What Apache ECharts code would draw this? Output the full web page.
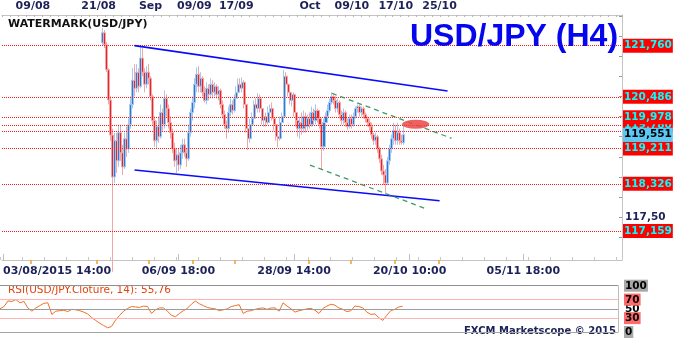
<!DOCTYPE html>
<html><head><meta charset="utf-8">
<script src="https://cdn.jsdelivr.net/npm/echarts/dist/echarts.min.js"></script>
<style>html,body{margin:0;padding:0;background:#fff}#c{width:680px;height:338px}</style>
</head><body><div id="c"></div>
<script>
// ---- data ----
const slotCount = 311;          // H4 slots on the main time axis (incl. future space)
const firstSlot = 50;           // first slot whose candle lies inside the visible price range
const opens = [
121.83,122.08,121.78,121.16,120.41,119.54,118.50,119.40,118.90,119.60,
119.10,118.75,119.45,119.20,119.80,120.30,120.90,120.70,121.10,120.75,
121.45,121.10,120.80,121.10,120.95,120.50,119.90,119.40,119.75,119.50,
120.10,119.80,120.45,120.20,119.85,119.60,119.20,118.90,119.05,118.80,
119.10,119.30,119.10,118.95,119.60,120.10,120.35,120.80,121.05,120.75,
120.95,120.60,120.40,120.70,120.55,120.80,120.60,120.75,120.55,120.65,
120.30,120.05,119.80,119.70,120.10,120.30,120.15,120.45,120.60,120.80,
120.70,120.85,120.30,119.70,119.45,119.80,119.95,120.30,120.20,120.45,
120.20,119.90,120.00,119.85,120.10,120.20,119.95,119.80,119.50,119.45,
119.85,120.00,121.00,120.80,120.60,120.40,120.55,120.10,119.90,119.70,
119.85,119.70,120.00,119.75,119.95,119.80,120.10,119.90,120.15,119.95,
119.80,119.25,119.85,120.00,120.15,120.35,120.50,120.40,120.20,120.35,
120.05,119.90,120.10,119.85,119.75,119.95,119.80,120.00,120.20,120.25,
120.10,120.20,120.05,119.95,119.85,119.75,119.55,119.40,119.50,119.20,
118.95,118.65,118.55,118.35,118.90,119.20,119.45,119.65,119.40,119.60,
119.40,119.35];
const closes = [
122.08,121.78,121.16,120.41,119.54,118.50,119.40,118.90,119.60,119.10,
118.75,119.45,119.20,119.80,120.30,120.90,120.70,121.10,120.75,121.45,
121.10,120.80,121.10,120.95,120.50,119.90,119.40,119.75,119.50,120.10,
119.80,120.45,120.20,119.85,119.60,119.20,118.90,119.05,118.80,119.10,
119.30,119.10,118.95,119.60,120.10,120.35,120.80,121.05,120.75,120.95,
120.60,120.40,120.70,120.55,120.80,120.60,120.75,120.55,120.65,120.30,
120.05,119.80,119.70,120.10,120.30,120.15,120.45,120.60,120.80,120.70,
120.85,120.30,119.70,119.45,119.80,119.95,120.30,120.20,120.45,120.20,
119.90,120.00,119.85,120.10,120.20,119.95,119.80,119.50,119.45,119.85,
120.00,121.00,120.80,120.60,120.40,120.55,120.10,119.90,119.70,119.85,
119.70,120.00,119.75,119.95,119.80,120.10,119.90,120.15,119.95,119.80,
119.25,119.85,120.00,120.15,120.35,120.50,120.40,120.20,120.35,120.05,
119.90,120.10,119.85,119.75,119.95,119.80,120.00,120.20,120.25,120.10,
120.20,120.05,119.95,119.85,119.75,119.55,119.40,119.50,119.20,118.95,
118.65,118.55,118.35,118.90,119.20,119.45,119.65,119.40,119.60,119.40,
119.35,119.551];
const lows = [
121.78,121.70,121.10,120.30,119.40,116.15,118.35,118.60,118.75,118.90,
118.55,118.70,119.00,119.10,119.70,120.20,120.50,120.60,120.60,120.70,
121.00,120.60,120.70,120.80,120.40,119.80,119.25,119.20,119.35,119.45,
119.65,119.70,120.00,119.70,119.45,119.10,118.75,118.60,118.65,118.70,
118.95,119.00,118.75,118.90,119.50,119.90,120.20,120.60,120.60,120.60,
120.50,120.35,120.30,120.40,120.45,120.45,120.50,120.45,120.40,120.20,
119.95,119.70,119.45,119.60,120.00,120.05,120.10,120.35,120.50,120.60,
120.60,120.20,119.60,119.17,119.35,119.65,119.90,120.05,120.10,120.10,
119.80,119.75,119.75,119.80,120.00,119.90,119.65,119.40,119.24,119.40,
119.70,119.95,120.65,120.50,120.30,120.25,120.00,119.75,119.50,119.45,
119.55,119.60,119.60,119.65,119.70,119.75,119.80,119.80,119.85,119.70,
118.68,119.15,119.75,119.90,120.10,120.30,120.30,120.10,120.10,119.95,
119.80,119.80,119.75,119.67,119.70,119.70,119.75,119.95,120.10,120.00,
120.00,119.95,119.85,119.75,119.65,119.45,119.30,119.30,119.10,118.85,
118.55,118.30,118.08,118.30,118.80,119.10,119.30,119.30,119.30,119.30,
119.30,119.30];
const highs = [
122.20,122.15,121.85,121.20,120.50,119.70,119.60,119.60,119.80,119.80,
119.30,119.60,119.75,119.95,120.50,121.20,121.30,121.30,121.20,121.75,
121.70,121.20,121.25,121.30,121.00,120.55,120.00,119.90,120.00,120.30,
120.20,120.65,120.55,120.30,120.00,119.70,119.35,119.20,119.20,119.30,
119.45,119.45,119.20,119.80,120.20,120.50,120.95,121.22,121.25,121.10,
121.00,120.75,120.85,120.80,120.95,120.90,120.85,120.80,120.75,120.70,
120.40,120.15,119.90,120.25,120.45,120.40,120.55,120.75,120.95,120.95,
120.97,120.90,120.35,119.80,119.95,120.10,120.40,120.45,120.58,120.55,
120.30,120.15,120.10,120.25,120.30,120.35,120.10,119.90,119.60,120.00,
120.10,121.16,121.10,120.95,120.70,120.60,120.60,120.20,119.95,120.00,
120.10,120.15,120.10,120.05,120.10,120.25,120.20,120.30,120.20,120.05,
119.90,119.95,120.10,120.30,120.45,120.60,120.58,120.50,120.45,120.40,
120.15,120.20,120.15,119.95,120.05,120.05,120.10,120.25,120.30,120.30,
120.25,120.25,120.10,120.00,119.95,119.85,119.60,119.60,119.55,119.25,
119.05,118.80,118.70,119.00,119.30,119.55,119.85,119.80,119.85,119.70,
119.55,119.80];

const rsiSlotCount = 156;
const rsiValues = [
50,55,67,66,70,63,66,52,45,52,
57,62,63,38,45,46,47,44,49,48,
46,43,39,31,25,19,14,9,12,26,
36,45,51,55,54,53,56,55,40,48,
52,52,45,36,33,40,46,51,60,67,
61,57,53,51,50,46,48,50,55,57,
59,40,45,46,49,51,52,49,52,52,
45,63,56,50,43,46,48,50,51,47,
40,51,56,60,58,52,49,44,46,56,
55,52,43,38,39,31,25,36,46,49,
54,55.76];

const levels = [121.760, 120.486, 119.978, 119.211, 118.326, 117.159];
const backLevels = [119.780, 119.640];      // partly hidden behind the other price tags
const hiddenLevelLabels = [119.640];
const lastPrice = 119.551;

const topTickSlots = [15, 48, 74, 96, 117, 154, 175, 197, 219];
const topTickLabels = ['09/08','21/08','Sep','09/09','17/09','Oct','09/10','17/10','25/10'];
const bottomTickSlots = [0, 88, 146, 204, 261];
const bottomTickLabels = ['03/08/2015 14:00','06/09 18:00','28/09 14:00','20/10 10:00','05/11 18:00'];
const priceTickValues = [117,117.5,118,118.5,119,119.5,120,120.5,121,121.5,122,122.5];
const priceTickLabels = [117.5];
const rsiTickLabels = [0, 30, 50, 70, 100];

// analyst drawings: [slot, price] endpoints
const channelLines = [[[66,121.760],[223,120.635]], [[66,118.673],[219,117.911]]];
const wedgeLines = [[[165,120.578],[225,119.460]], [[154,118.797],[213,117.697]]];
const highlightZone = [207, 119.81];

// ---- build ----
const navy = '#1c2158';
const FONT = 'DejaVu Sans';
const cats = Array.from({length: slotCount}, (_, i) => String(i));
const rsiCats = Array.from({length: rsiSlotCount}, (_, i) => String(i));
const candles = cats.map((_, i) => {
  const k = i - firstSlot;
  if (k < 0 || k >= closes.length) return '-';
  return [opens[k], closes[k], lows[k], highs[k]];
});
const fmtComma = (v, d) => v.toFixed(d).replace('.', ',');

const levelMark = v => ({
  yAxis: v,
  lineStyle: {color: '#ff1a1a', type: [1, 1], width: 1},
  label: hiddenLevelLabels.includes(v) ? {show: false} : {
    show: true, position: 'end', distance: 1, formatter: fmtComma(v, 3),
    backgroundColor: '#ff0000', color: '#00ffff', fontFamily: FONT, fontWeight: 'bold',
    fontSize: 10.5, padding: [2, 1, 1, 1]
  }
});
const levelMarks = levels.map(levelMark);
levelMarks.push({
  yAxis: lastPrice, lineStyle: {color: 'rgba(0,0,0,0)', width: 1},
  label: {show: true, position: 'end', distance: 1, formatter: fmtComma(lastPrice, 3),
    backgroundColor: '#5ec8f4', color: '#000', fontFamily: FONT, fontWeight: 'bold',
    fontSize: 10.5, padding: [2, 1, 1, 1]}
});
const drawMarks = [];
channelLines.forEach(l => drawMarks.push([
  {coord: l[0], lineStyle: {color: '#0a0aff', width: 1.6, type: 'solid'}, label: {show: false}},
  {coord: l[1]}]));
wedgeLines.forEach(l => drawMarks.push([
  {coord: l[0], lineStyle: {color: '#3f9d62', width: 1.3, type: [5, 4]}, label: {show: false}},
  {coord: l[1]}]));

const option = {
  animation: false,
  backgroundColor: '#ffffff',
  title: [
    {text: 'USD/JPY (H4)', left: 410, top: 21, padding: 0,
     textStyle: {fontFamily: 'Liberation Sans', fontSize: 32, fontWeight: 'bold', color: '#0505ee'}},
    {text: 'WATERMARK(USD/JPY)', left: 8, top: 19, padding: 0,
     textStyle: {fontFamily: FONT, fontSize: 11, fontWeight: 'bold', color: '#111111'}}
  ],
  graphic: [
    {type: 'text', left: 8, top: 285, style: {text: 'RSI(USD/JPY.Cloture, 14): ' + fmtComma(rsiValues[rsiValues.length - 1], 2),
      fill: '#e2440e', font: '10.5px "DejaVu Sans"'}},
    {type: 'text', left: 464, top: 326, style: {text: 'FXCM Marketscope \u00a9 2015', fill: navy,
      font: 'bold 10px "DejaVu Sans"'}}
  ],
  grid: [
    {left: 0, right: 58, top: 15, bottom: 78},
    {left: 0, right: 62, top: 285.7, bottom: 3.7},
    {left: 0, right: 58, top: 15, bottom: 78}
  ],
  xAxis: [
    {type: 'category', gridIndex: 0, data: cats, position: 'bottom', boundaryGap: true,
     axisLine: {lineStyle: {color: '#c4c4c4'}},
     axisTick: {show: true, inside: true, length: 6, alignWithLabel: true,
       interval: i => bottomTickSlots.includes(i), lineStyle: {color: '#bdbdbd'}},
     axisLabel: {interval: i => bottomTickSlots.includes(i), alignMinLabel: 'left',
       formatter: v => bottomTickLabels[bottomTickSlots.indexOf(Number(v))] || '',
       margin: 6, color: navy, fontFamily: FONT, fontWeight: 'bold', fontSize: 11}},
    {type: 'category', gridIndex: 0, data: cats, position: 'top', boundaryGap: true,
     axisLine: {lineStyle: {color: '#c4c4c4'}},
     axisTick: {show: true, inside: true, length: 2, interval: i => i % 4 === 0, lineStyle: {color: '#b5b5b5'}},
     axisLabel: {interval: i => topTickSlots.includes(i),
       formatter: v => topTickLabels[topTickSlots.indexOf(Number(v))] || '',
       margin: 3, color: navy, fontFamily: FONT, fontWeight: 'bold', fontSize: 11}},
    {type: 'category', gridIndex: 1, data: rsiCats, boundaryGap: false,
     axisLine: {show: false}, axisTick: {show: false}, axisLabel: {show: false}},
    {type: 'category', gridIndex: 2, data: cats, position: 'top', boundaryGap: true,
     axisLine: {show: false}, axisLabel: {show: false},
     axisTick: {show: true, inside: true, length: 4, alignWithLabel: true,
       interval: i => topTickSlots.includes(i), lineStyle: {color: '#f3a02a', width: 1.5}}},
    {type: 'category', gridIndex: 2, data: cats, position: 'bottom', boundaryGap: true,
     axisLine: {show: false}, axisLabel: {show: false},
     axisTick: {show: true, inside: true, length: 3, interval: i => i % 11 === 0, lineStyle: {color: '#c8c8c8'}}}
  ],
  yAxis: [
    {type: 'value', gridIndex: 0, position: 'right', min: 116.44, max: 122.52,
     splitLine: {show: false},
     axisLine: {show: true, lineStyle: {color: '#c4c4c4'}},
     axisTick: {show: true, inside: true, length: 3, customValues: priceTickValues, lineStyle: {color: '#9a9a9a'}},
     axisLabel: {customValues: priceTickLabels, formatter: v => fmtComma(v, 2), margin: 3,
       color: navy, fontFamily: FONT, fontWeight: 'bold', fontSize: 10.5}},
    {type: 'value', gridIndex: 1, position: 'right', min: 0, max: 100, interval: 10,
     splitLine: {show: false}, axisTick: {show: false},
     axisLine: {show: true, lineStyle: {color: '#bdbdbd'}},
     axisLabel: {margin: 6,
       formatter: v => !rsiTickLabels.includes(v) ? '' : (v === 70 || v === 30 ? '{r|' + v + '}' : (v === 50 ? '{n|' + v + '}' : '{g|' + v + '}')),
       rich: {
         g: {backgroundColor: '#a9a9a9', color: '#000', fontFamily: FONT, fontWeight: 'bold', fontSize: 10.5, padding: [1, 1, 0, 1]},
         r: {backgroundColor: '#ff6b6b', color: '#000', fontFamily: FONT, fontWeight: 'bold', fontSize: 10.5, padding: [1, 1, 0, 1]},
         n: {color: '#000', fontFamily: FONT, fontWeight: 'bold', fontSize: 10.5, padding: [1, 1, 0, 1]}
       }}},
    {type: 'value', gridIndex: 2, show: false, min: 0, max: 1}
  ],
  series: [
    {type: 'line', xAxisIndex: 0, yAxisIndex: 0, data: [], symbol: 'none', z: 1,
     markLine: {silent: true, z: 3, symbol: ['none', 'none'], animation: false, data: backLevels.map(levelMark)}},
    {type: 'candlestick', xAxisIndex: 0, yAxisIndex: 0, data: candles, clip: true,
     barWidth: 2.6,
     itemStyle: {color: '#2e78d4', color0: '#e2262c', borderColor: '#a4c8ee', borderColor0: '#f4a6a6', borderWidth: 1},
     markLine: {silent: true, z: 6, symbol: ['none', 'none'], animation: false, data: levelMarks.concat(drawMarks)},
     markPoint: {silent: true, z: 7, animation: false, data: [
       {coord: highlightZone, symbol: 'circle', symbolSize: [27, 9],
        itemStyle: {color: 'rgba(236,70,70,0.85)'}, label: {show: false}}]}
    },
    {type: 'line', xAxisIndex: 2, yAxisIndex: 1, data: rsiValues, symbol: 'none',
     lineStyle: {color: '#f07028', width: 1},
     markLine: {silent: true, symbol: ['none', 'none'], animation: false, label: {show: false},
       data: [
         {yAxis: 100, lineStyle: {color: '#8f8f8f', type: 'solid', width: 1}},
         {yAxis: 70, lineStyle: {color: '#ffb3b3', type: 'solid', width: 1}},
         {yAxis: 50, lineStyle: {color: '#9c9c9c', type: 'solid', width: 1}},
         {yAxis: 30, lineStyle: {color: '#ffb3b3', type: 'solid', width: 1}},
         {yAxis: 0, lineStyle: {color: '#a5a5a5', type: 'solid', width: 1}}
       ]}}
  ]
};
const chart = echarts.init(document.getElementById('c'), null, {renderer: 'canvas'});
chart.setOption(option);
</script></body></html>
